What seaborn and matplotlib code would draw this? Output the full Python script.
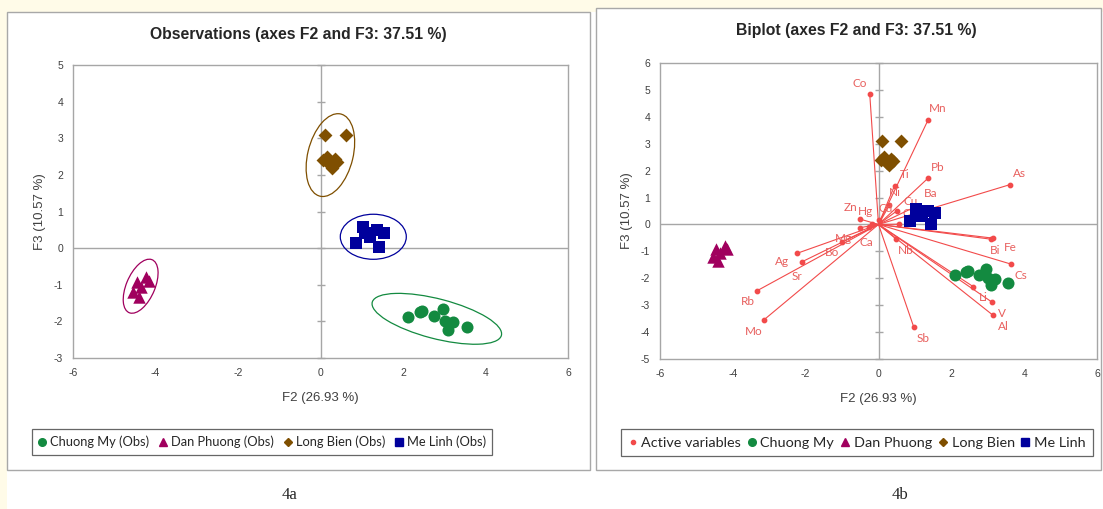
import numpy as np
import pandas as pd
import matplotlib.pyplot as plt
import seaborn as sns
from matplotlib.patches import Ellipse, Rectangle
from matplotlib.lines import Line2D

# observations (F2, F3 scores)
groups = ["Chuong My", "Dan Phuong", "Long Bien", "Me Linh"]
cm_f2 = [2.11, 2.40, 2.45, 2.76, 2.96, 3.02, 3.20, 3.08, 3.56]
cm_f3 = [-1.89, -1.75, -1.72, -1.86, -1.67, -2.00, -2.02, -2.24, -2.16]
dp_f2 = [-4.46, -4.22, -4.55, -4.34, -4.41, -4.15]
dp_f3 = [-0.93, -0.79, -1.20, -1.07, -1.34, -0.90]
lb_f2 = [0.10, 0.61, 0.15, 0.34, 0.22, 0.41, 0.07, 0.29]
lb_f3 = [3.09, 3.09, 2.50, 2.42, 2.28, 2.34, 2.40, 2.20]
ml_f2 = [1.02, 1.36, 1.55, 0.87, 1.43, 1.19, 1.07]
ml_f3 = [0.57, 0.49, 0.41, 0.14, 0.03, 0.30, 0.41]

# confidence ellipses: centre, width, height, angle
ell_x = [2.82, -4.36, 0.24, 1.28]
ell_y = [-1.93, -1.04, 2.54, 0.31]
ell_w = [3.26, 0.70, 1.10, 1.60]
ell_h = [1.08, 1.55, 2.30, 1.23]
ell_a = [-16.5, -20, -12, 0]

# active variables (biplot)
var_names = ["Co", "Mn", "Pb", "As", "Ti", "Ni", "Cu", "Ba", "Cd", "Cr", "Nb",
             "Bi", "Fe", "Cs", "Li", "V", "Al", "Sb", "Zn", "Hg", "Mg", "Ca",
             "Bo", "Ag", "Sr", "Rb", "Mo"]
var_f2 = [-0.24, 1.36, 1.36, 3.61, 0.44, 0.30, 0.51, 1.00, 0.02, 0.56, 0.49,
          3.10, 3.15, 3.63, 2.60, 3.12, 3.15, 0.97, -0.51, -0.17, -0.51, -0.25,
          -1.00, -2.23, -2.09, -3.33, -3.15]
var_f3 = [4.84, 3.88, 1.72, 1.48, 1.44, 0.72, 0.51, 0.65, 0.17, 0.01, -0.55,
          -0.55, -0.51, -1.47, -2.31, -2.89, -3.38, -3.82, 0.20, 0.03, -0.12, -0.10,
          -0.64, -1.07, -1.38, -2.46, -3.55]

colors = ["#138A40", "#A0005E", "#7F4F00", "#00009C"]
markers = ["o", "^", "D", "s"]
msizes = [75, 80, 50, 78]
var_color = "#F24A4A"
lab_color = "#E8605E"

# small label nudges (points) where labels crowd
nudge = {"Bi": (-4, 0), "Fe": (5, 1), "Mg": (-5, 0), "Ca": (5, -3),
         "Ni": (-3, 1), "Cu": (3, -1), "Ba": (4, 2), "Cd": (-2, 0), "Hg": (2, 1),
         "Ag": (-4, 2), "Sr": (3, -3)}

obs = pd.concat([
    pd.DataFrame({"F2": cm_f2, "F3": cm_f3, "group": groups[0]}),
    pd.DataFrame({"F2": dp_f2, "F3": dp_f3, "group": groups[1]}),
    pd.DataFrame({"F2": lb_f2, "F3": lb_f3, "group": groups[2]}),
    pd.DataFrame({"F2": ml_f2, "F3": ml_f3, "group": groups[3]}),
], ignore_index=True)

sns.set_style("white")
plt.rcParams["font.family"] = ["Liberation Sans", "DejaVu Sans"]

fig = plt.figure(figsize=(11.03, 5.09), dpi=100)
fig.patch.set_facecolor("#FFFFFF")
W, H = 1103, 509

# page background and panel frames
fig.patches.append(Rectangle((0, 1 - 12 / H), 1, 12 / H, transform=fig.transFigure,
                             facecolor="#FFFBE8", edgecolor="none", zorder=-5))
fig.patches.append(Rectangle((0, 0), 7 / W, 1, transform=fig.transFigure,
                             facecolor="#FFFBE8", edgecolor="none", zorder=-5))
for x0, y0, x1, y1 in [(7, 12, 590, 470), (596, 8, 1101, 470)]:
    fig.patches.append(Rectangle((x0 / W, 1 - y1 / H), (x1 - x0) / W, (y1 - y0) / H,
                                 transform=fig.transFigure, facecolor="white",
                                 edgecolor="#A8A8A8", lw=1.0, zorder=-4))

ax1 = fig.add_axes([73 / W, 1 - 358 / H, 495 / W, 293 / H])
ax2 = fig.add_axes([660 / W, 1 - 359 / H, 437 / W, 296 / H])


def style_axes(ax, ylo, yhi):
    ax.set_xlim(-6, 6)
    ax.set_ylim(ylo, yhi)
    xt = np.arange(-6, 7, 2)
    yt = np.arange(ylo, yhi + 1, 1)
    ax.set_xticks(xt)
    ax.set_yticks(yt)
    ax.set_xticklabels([str(v) for v in xt])
    ax.set_yticklabels([str(v) for v in yt])
    ax.tick_params(length=0, labelsize=7.5, colors="#404040", pad=7)
    for s in ax.spines.values():
        s.set_color("#A6A6A6")
        s.set_linewidth(1.0)
    ax.axhline(0, color="#A6A6A6", lw=1.0, zorder=0)
    ax.axvline(0, color="#A6A6A6", lw=1.0, zorder=0)
    ax.plot(np.zeros(len(yt)), yt, ls="none", marker="_", ms=6, mew=1.0,
            color="#A6A6A6", zorder=0, clip_on=False)


def draw_obs(ax):
    for g, c, m, s in zip(groups, colors, markers, msizes):
        sns.scatterplot(data=obs[obs["group"] == g], x="F2", y="F3", color=c,
                        marker=m, s=s, linewidth=0, legend=False, ax=ax, zorder=3)
    ax.set_xlabel("F2 (26.93 %)", fontsize=9.5, color="#404040", labelpad=10)
    ax.set_ylabel("F3 (10.57 %)", fontsize=9.5, color="#404040", labelpad=6)


# ---- 4a: observations ----
style_axes(ax1, -3, 5)
draw_obs(ax1)
for i in range(len(groups)):
    ax1.add_patch(Ellipse((ell_x[i], ell_y[i]), ell_w[i], ell_h[i], angle=ell_a[i],
                          fill=False, edgecolor=colors[i], lw=0.9, zorder=2))
fig.text(298 / W, 1 - 35 / H, "Observations (axes F2 and F3: 37.51 %)",
         ha="center", va="center", fontsize=11.3, fontweight="bold")

# ---- 4b: biplot ----
style_axes(ax2, -5, 6)
for x, y in zip(var_f2, var_f3):
    ax2.plot([0, x], [0, y], color=var_color, lw=0.8, zorder=1)
ax2.scatter(var_f2, var_f3, s=10, color=var_color, zorder=2)
for name, x, y in zip(var_names, var_f2, var_f3):
    dx, dy = nudge.get(name, (0, 0))
    ax2.annotate(name, (x, y), xytext=(np.sign(x) * 7 + dx, (8 if y >= 0 else -8) + dy),
                 textcoords="offset points", ha="center", va="center",
                 fontsize=8.5, color=lab_color, family=["Lato", "DejaVu Sans"])
draw_obs(ax2)
fig.text(856 / W, 1 - 31 / H, "Biplot (axes F2 and F3: 37.51 %)",
         ha="center", va="center", fontsize=11.3, fontweight="bold")

# legends
def handle(m, c, ms=5.5):
    return Line2D([], [], ls="none", marker=m, color=c, markersize=ms)

h1 = [handle(m, c, 4.5 if m == "D" else 5.5) for m, c in zip(markers, colors)]
lg1 = fig.legend(h1, [g + " (Obs)" for g in groups], ncol=4, loc="center",
                 bbox_to_anchor=(262 / W, 1 - 442 / H), frameon=True, fancybox=False,
                 handlelength=0.6, handletextpad=0.3, columnspacing=0.8,
                 borderpad=0.5, prop={"family": ["Lato", "DejaVu Sans"], "size": 9.3})
lg1.get_frame().set_edgecolor("#404040")
lg1.get_frame().set_linewidth(0.9)

h2 = [handle("o", var_color, 3)] + h1
lg2 = fig.legend(h2, ["Active variables"] + groups, ncol=5, loc="center",
                 bbox_to_anchor=(857 / W, 1 - 442.5 / H), frameon=True, fancybox=False,
                 handlelength=0.6, handletextpad=0.3, columnspacing=0.45,
                 borderpad=0.5, prop={"family": ["Lato", "DejaVu Sans"], "size": 10.4})
lg2.get_frame().set_edgecolor("#404040")
lg2.get_frame().set_linewidth(0.9)

# captions
fig.text(290 / W, 1 - 495 / H, "4a", ha="center", va="center", fontsize=12,
         family=["Liberation Serif", "DejaVu Serif"])
fig.text(900 / W, 1 - 495 / H, "4b", ha="center", va="center", fontsize=12,
         family=["Liberation Serif", "DejaVu Serif"])

fig.savefig("out.png", dpi=100)
